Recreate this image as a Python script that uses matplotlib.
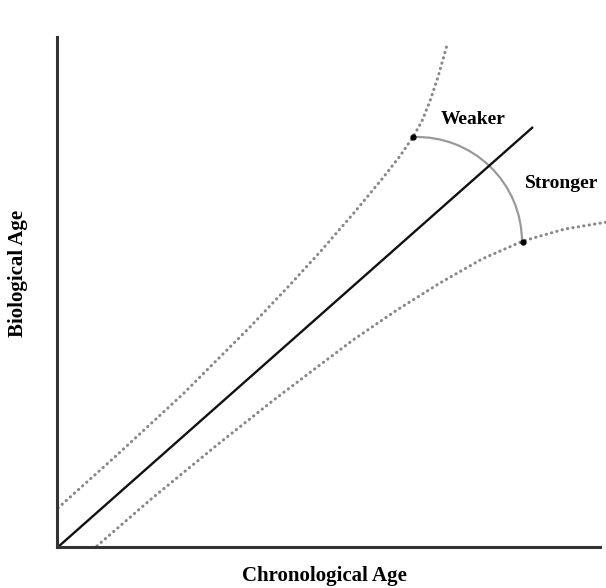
import matplotlib
matplotlib.use("Agg")
import matplotlib.pyplot as plt
from matplotlib.patches import Arc

# Data (units: arbitrary, origin at axes corner)
diag_x = [1, 476]
diag_y = [0, 420]

upper_x = [1, 60, 126, 193, 230, 263, 296, 325, 343, 356, 365, 373, 381, 390]
upper_y = [39, 92, 153, 220, 259, 295, 333, 368, 391, 410, 426, 446, 470, 502]

lower_x = [40, 93, 160, 218, 296, 340, 383, 425, 466, 508, 550]
lower_y = [1, 47, 102, 148, 207, 237, 264, 288, 306, 318, 325]

arc_center = (360, 305)
arc_radius = 105
arc_ends_x = [356, 466]
arc_ends_y = [410, 305]

labels = {"x": "Chronological Age", "y": "Biological Age",
          "weak": "Weaker", "strong": "Stronger"}

serif = ["Liberation Serif", "DejaVu Serif"]

fig = plt.figure(figsize=(6.06, 5.88), dpi=100)
W, H = 606, 588
ax = fig.add_axes([57 / W, 41 / H, 543 / W, 510 / H])
ax.set_xlim(0, 543)
ax.set_ylim(0, 510)

for s in ["top", "right"]:
    ax.spines[s].set_visible(False)
for s in ["left", "bottom"]:
    ax.spines[s].set_linewidth(2.2)
    ax.spines[s].set_color("#333333")
ax.set_xticks([])
ax.set_yticks([])

ax.plot(diag_x, diag_y, color="#111111", lw=1.7, solid_capstyle="butt")
dot_style = dict(color="#888888", lw=2.2, linestyle=(0, (0.1, 1.7)),
                 dash_capstyle="round", clip_on=False)
ax.plot(upper_x, upper_y, **dot_style)
ax.plot(lower_x, lower_y, **dot_style)

ax.add_patch(Arc(arc_center, 2 * arc_radius, 2 * arc_radius, theta1=0, theta2=92,
                 color="#999999", lw=1.6))
ax.plot(arc_ends_x, arc_ends_y, "o", color="black", ms=3.5, zorder=5)

ax.text(416, 428, labels["weak"], family=serif, fontsize=14, fontweight="bold",
        ha="center", va="center")
ax.text(505, 364, labels["strong"], family=serif, fontsize=14, fontweight="bold",
        ha="center", va="center")

fig.text(324 / W, 1 - 576 / H, labels["x"], family=serif, fontsize=15,
         fontweight="bold", ha="center", va="center")
fig.text(18 / W, 1 - 273 / H, labels["y"], family=serif, fontsize=15,
         fontweight="bold", ha="center", va="center", rotation=90)

fig.savefig("out.png", dpi=100)
